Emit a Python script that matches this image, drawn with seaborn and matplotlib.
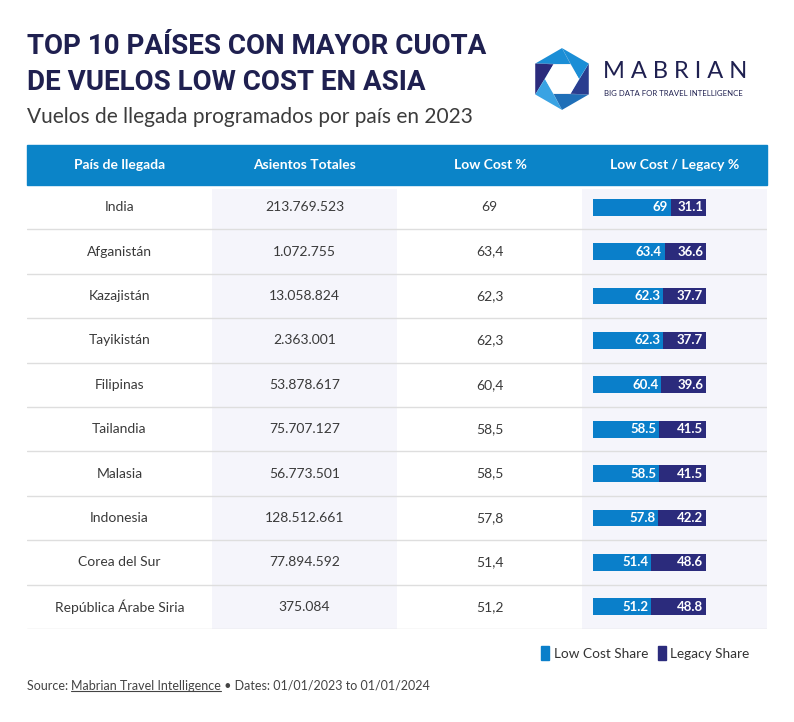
import numpy as np
import pandas as pd
import matplotlib.pyplot as plt
import seaborn as sns
from matplotlib.patches import Rectangle, Polygon, Patch
from matplotlib.lines import Line2D

# ---------------------------------------------------------------
# data
# ---------------------------------------------------------------
countries = ['India', 'Afganistán', 'Kazajistán', 'Tayikistán', 'Filipinas',
             'Tailandia', 'Malasia', 'Indonesia', 'Corea del Sur',
             'República Árabe Siria']
seats = [213769523, 1072755, 13058824, 2363001, 53878617,
         75707127, 56773501, 128512661, 77894592, 375084]
low_cost = [69, 63.4, 62.3, 62.3, 60.4, 58.5, 58.5, 57.8, 51.4, 51.2]
legacy = [31.1, 36.6, 37.7, 37.7, 39.6, 41.5, 41.5, 42.2, 48.6, 48.8]
headers = ['País de llegada', 'Asientos Totales', 'Low Cost %', 'Low Cost / Legacy %']

df = pd.DataFrame({'country': countries, 'seats': seats,
                   'low': low_cost, 'legacy': legacy})
df['total'] = df['low'] + df['legacy']

# colours
HEAD_BLUE = '#0b84c8'
LOW_BLUE = '#0a7fca'
NAVY = '#2b2b7c'
TITLE = '#1f2050'
SHADE = '#f5f5fb'
LINE = '#dedede'
TXT = '#3a3a3a'

W, H = 794, 722


def fx(x):
    return x / W


def fy(y):
    return 1 - y / H


sns.set_theme(style='white')
plt.rcParams['font.family'] = ['Lato', 'DejaVu Sans']

fig = plt.figure(figsize=(W / 100, H / 100), dpi=100)

# ---------------------------------------------------------------
# titles
# ---------------------------------------------------------------
fig.text(fx(27), fy(47), 'TOP 10 PAÍSES CON MAYOR CUOTA', fontsize=20,
         fontweight='bold', color=TITLE, va='center', ha='left',
         family=['Roboto', 'DejaVu Sans'])
fig.text(fx(27), fy(83), 'DE VUELOS LOW COST EN ASIA', fontsize=20,
         fontweight='bold', color=TITLE, va='center', ha='left',
         family=['Roboto', 'DejaVu Sans'])
fig.text(fx(27), fy(117), 'Vuelos de llegada programados por país en 2023',
         fontsize=15, color='#3c3c3c', va='center', ha='left')

# ---------------------------------------------------------------
# logo
# ---------------------------------------------------------------
lx = fig.add_axes([fx(528), fy(117), fx(68), 76 / H])
lx.set_xlim(-1.1, 1.1)
lx.set_ylim(-1.12, 1.12)
lx.set_aspect('equal')
lx.axis('off')
ang_out = np.deg2rad(90 + 60 * np.arange(6))
outer = np.c_[np.cos(ang_out), np.sin(ang_out)]
ang_in = np.deg2rad(60 * np.arange(6))
inner = 0.55 * np.c_[np.cos(ang_in), np.sin(ang_in)]
tri_cols = ['#1b8ed6', NAVY, '#3aa3e3', '#1f6fb8', '#2a3d8f', '#1b8ed6']
for i in range(6):
    lx.add_patch(Polygon([outer[i], outer[(i + 1) % 6], inner[(i + 1) % 6]],
                         closed=True, color=tri_cols[i], lw=0))
    lx.add_patch(Polygon([outer[i], inner[i], inner[(i + 1) % 6]],
                         closed=True, color=tri_cols[(i + 3) % 6], lw=0))
lx.add_patch(Polygon(inner, closed=True, color='white', lw=0))

fig.text(fx(603), fy(72), 'M A B R I A N', fontsize=17, fontweight='normal',
         color=TITLE, va='center', ha='left')
fig.text(fx(604), fy(93), 'BIG DATA FOR TRAVEL INTELLIGENCE', fontsize=5.6,
         color=TITLE, va='center', ha='left')

# ---------------------------------------------------------------
# table header
# ---------------------------------------------------------------
fig.patches.append(Rectangle((fx(27), fy(185)), fx(767) - fx(27), 40 / H,
                             transform=fig.transFigure, color=HEAD_BLUE, zorder=0))
col_centers = [120, 305, 490, 675]
for cx, h in zip(col_centers, headers):
    fig.text(fx(cx), fy(165), h, fontsize=10, fontweight='bold', color='white',
             ha='center', va='center')

# ---------------------------------------------------------------
# table body
# ---------------------------------------------------------------
tx = fig.add_axes([fx(27), fy(629), fx(767) - fx(27), 444 / H])
tx.set_xlim(0, 4)
tx.set_ylim(10, 0)
tx.axis('off')
tx.axvspan(1, 2, ymin=0, ymax=0.99, color=SHADE, lw=0)
tx.axvspan(3, 4, ymin=0, ymax=0.99, color=SHADE, lw=0)
for k in range(1, 11):
    tx.axhline(k, color=LINE, lw=1)

for i, row in df.iterrows():
    tx.text(0.5, i + 0.5, row['country'], ha='center', va='center',
            fontsize=10, color=TXT)
    tx.text(1.5, i + 0.5, f"{row['seats']:,}".replace(',', '.'), ha='center',
            va='center', fontsize=10, color=TXT)
    tx.text(2.5, i + 0.5, f"{row['low']:g}".replace('.', ','), ha='center',
            va='center', fontsize=10, color=TXT)

# stacked bars in the last column
bx = fig.add_axes([fx(582), fy(629), fx(185), 444 / H])
bx.patch.set_alpha(0)
sns.barplot(data=df, y='country', x='total', color=NAVY, saturation=1,
            width=0.38, linewidth=0, ax=bx)
sns.barplot(data=df, y='country', x='low', color=LOW_BLUE, saturation=1,
            width=0.38, linewidth=0, ax=bx)
bx.set_xlim(-11 / 1.13, 174 / 1.13)
bx.set_ylim(9.5, -0.5)
bx.axis('off')
for i, row in df.iterrows():
    bx.text(row['low'] - 2.5, i, f"{row['low']:g}", ha='right', va='center',
            fontsize=9.5, fontweight='bold', color='white')
    bx.text(row['total'] - 2.5, i, f"{row['legacy']:g}", ha='right', va='center',
            fontsize=9.5, fontweight='bold', color='white')

# legend
handles = [Patch(facecolor=LOW_BLUE, edgecolor=LOW_BLUE),
           Patch(facecolor=NAVY, edgecolor=NAVY)]
fig.legend(handles, ['Low Cost Share', 'Legacy Share'], loc='center right',
           bbox_to_anchor=(fx(762), fy(653)), ncol=2, frameon=False,
           fontsize=9.8, handlelength=0.6, handleheight=1.2,
           handletextpad=0.35, columnspacing=0.7, labelcolor='#333333')

# ---------------------------------------------------------------
# source line
# ---------------------------------------------------------------
renderer = fig.canvas.get_renderer()
x0 = fx(27)
parts = [('Source: ', False), ('Mabrian Travel Intelligence', True),
         (' • Dates: 01/01/2023 to 01/01/2024', False)]
for s, underline in parts:
    t = fig.text(x0, fy(686), s, fontsize=9, color='#444444', ha='left',
                 va='center')
    bb = t.get_window_extent(renderer).transformed(fig.transFigure.inverted())
    if underline:
        fig.lines.append(Line2D([bb.x0, bb.x1], [bb.y0 + 0.001, bb.y0 + 0.001],
                                transform=fig.transFigure, color='#444444',
                                lw=0.8))
    x0 = bb.x1

fig.savefig('out.png', dpi=100, facecolor='white')
